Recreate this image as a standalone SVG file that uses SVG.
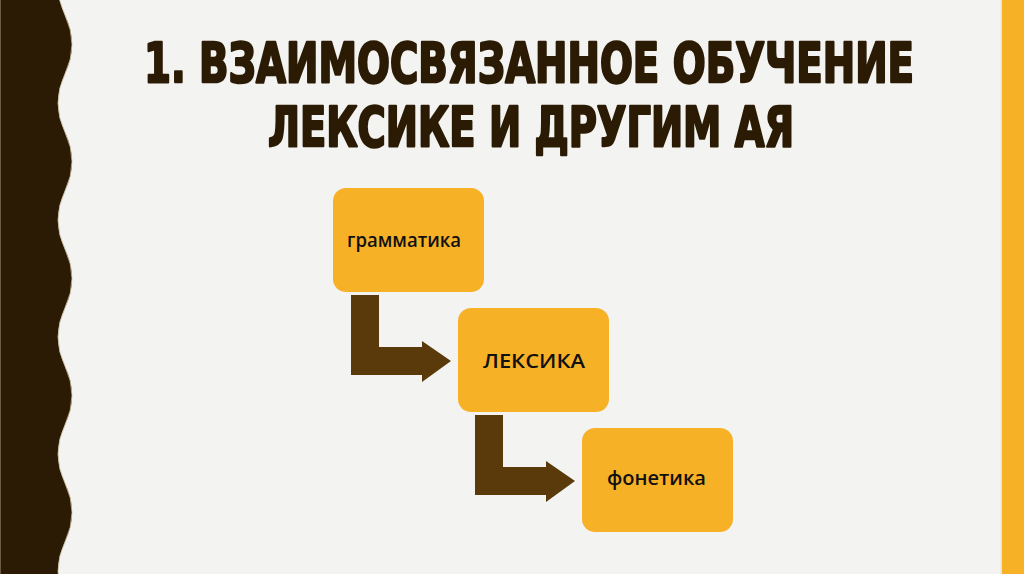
<svg xmlns="http://www.w3.org/2000/svg" width="1024" height="574" viewBox="0 0 1024 574">
  <defs>
    <style>
      .title { font-family: "DejaVu Sans Condensed", "Liberation Sans", sans-serif; font-weight: bold; font-size: 56px; fill: #2b1b04; stroke: #2b1b04; stroke-width: 2.4px; stroke-linejoin: round; }
      .box { fill: #f7b126; }
      .label { font-family: "Open Sans", "Noto Sans", sans-serif; font-weight: 600; font-size: 20px; fill: #111111; }
      .arrow { fill: #5a3a0b; }
    </style>
  </defs>
  <rect x="0" y="0" width="1024" height="574" fill="#f3f3f1"/>
  <rect x="1002" y="0" width="22" height="574" fill="#f7b126"/>
  <rect x="1000.5" y="0" width="1.5" height="574" fill="#e8e4da"/>
  <path d="M0,-50 L65,-43.25 Q51,-14 65,15.25 T65,73.75 T65,132.25 T65,190.75 T65,249.25 T65,307.75 T65,366.25 T65,424.75 T65,483.25 T65,541.75 T65,600.25 L0,600 Z" fill="#2b1b04" stroke="#cdbf9f" stroke-width="0.8"/>
  <g id="title">
    <text class="title" x="144" y="82" textLength="770" lengthAdjust="spacingAndGlyphs">1. ВЗАИМОСВЯЗАННОЕ ОБУЧЕНИЕ</text>
    <text class="title" x="268" y="146" textLength="526" lengthAdjust="spacingAndGlyphs">ЛЕКСИКЕ И ДРУГИМ АЯ</text>
  </g>
  <g id="connectors">
    <path class="arrow" d="M351,295 L379,295 L379,347 L422,347 L422,341 L451,361 L422,382 L422,375 L351,375 Z"/>
    <path class="arrow" d="M475,415 L503,415 L503,467 L546,467 L546,461 L575,481 L546,502 L546,495 L475,495 Z"/>
  </g>
  <g id="node-grammatika">
    <rect class="box" x="333" y="188" width="151" height="104" rx="13"/>
    <text class="label" x="347" y="247" textLength="114" lengthAdjust="spacingAndGlyphs">грамматика</text>
  </g>
  <g id="node-leksika">
    <rect class="box" x="458" y="308" width="151" height="104" rx="13"/>
    <text class="label" x="483" y="368" textLength="102" lengthAdjust="spacingAndGlyphs">ЛЕКСИКА</text>
  </g>
  <g id="node-fonetika">
    <rect class="box" x="582" y="428" width="151" height="104" rx="13"/>
    <text class="label" x="607" y="485" textLength="99" lengthAdjust="spacingAndGlyphs">фонетика</text>
  </g>
</svg>
